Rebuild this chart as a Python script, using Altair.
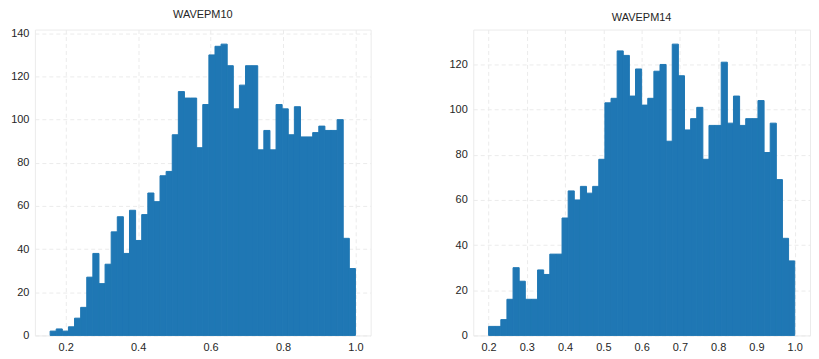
import altair as alt
import pandas as pd

# WAVEPM10 histogram (50 bins)
pm10_range = [0.157, 1.0]
pm10_counts = [2, 3, 2, 4, 8, 13, 27, 38, 24, 33,
               48, 55, 38, 58, 44, 56, 66, 62, 74, 76,
               93, 113, 110, 110, 87, 107, 130, 134, 135, 125,
               105, 116, 125, 125, 86, 95, 86, 107, 105, 93,
               106, 92, 92, 94, 97, 95, 95, 100, 45, 31]

# WAVEPM14 histogram (50 bins)
pm14_range = [0.2, 1.0]
pm14_counts = [4, 4, 7, 16, 30, 24, 16, 16, 29, 27,
               36, 36, 52, 64, 60, 66, 63, 66, 78, 103,
               105, 126, 124, 106, 118, 102, 105, 117, 120, 86,
               129, 115, 91, 96, 101, 78, 93, 93, 121, 94,
               106, 93, 96, 96, 104, 81, 94, 69, 43, 33]

pm10_xticks = [0.2, 0.4, 0.6, 0.8, 1.0]
pm14_xticks = [0.2, 0.3, 0.4, 0.5, 0.6, 0.7, 0.8, 0.9, 1.0]
pm10_yticks = [0, 20, 40, 60, 80, 100, 120, 140]
pm14_yticks = [0, 20, 40, 60, 80, 100, 120]


def hist_df(rng, counts):
    n = len(counts)
    w = (rng[1] - rng[0]) / n
    return pd.DataFrame({
        "start": [rng[0] + i * w for i in range(n)],
        "end": [rng[0] + (i + 1) * w for i in range(n)],
        "count": counts,
        "base": [0] * n,
    })


def panel(title, rng, counts, xticks, yticks, xdom, ydom, w):
    df = hist_df(rng, counts)
    return alt.Chart(df, title=title).mark_rect(
        color="#1f77b4", stroke="#1f77b4", strokeWidth=1, strokeOpacity=1
    ).encode(
        x=alt.X("start:Q", scale=alt.Scale(domain=xdom, nice=False, zero=False),
                axis=alt.Axis(values=xticks, format=".1f", title=None)),
        x2="end:Q",
        y=alt.Y("count:Q", scale=alt.Scale(domain=ydom, nice=False),
                axis=alt.Axis(values=yticks, title=None)),
        y2="base:Q",
    ).properties(width=w, height=307)


left = panel("WAVEPM10", pm10_range, pm10_counts, pm10_xticks, pm10_yticks,
             [0.115, 1.042], [0, 141.75], 337)
right = panel("WAVEPM14", pm14_range, pm14_counts, pm14_xticks, pm14_yticks,
              [0.16, 1.04], [0, 135.45], 338)

chart = alt.hconcat(left, right, spacing=77).properties(
    padding={"left": 2, "top": 0, "right": 0, "bottom": 0}
).configure_view(
    stroke="#ebebeb", strokeWidth=1
).configure_axis(
    grid=True, gridColor="#ebebeb", gridDash=[4, 3], gridWidth=1,
    domain=False, ticks=False, labelPadding=6,
    labelFont="Liberation Sans", labelFontSize=11, labelColor="#262626",
).configure_title(
    font="Liberation Sans", fontSize=11, fontWeight="normal", color="#262626",
    offset=7, anchor="middle"
)

chart.save("out.html", embed_options={"renderer": "svg", "actions": False})
